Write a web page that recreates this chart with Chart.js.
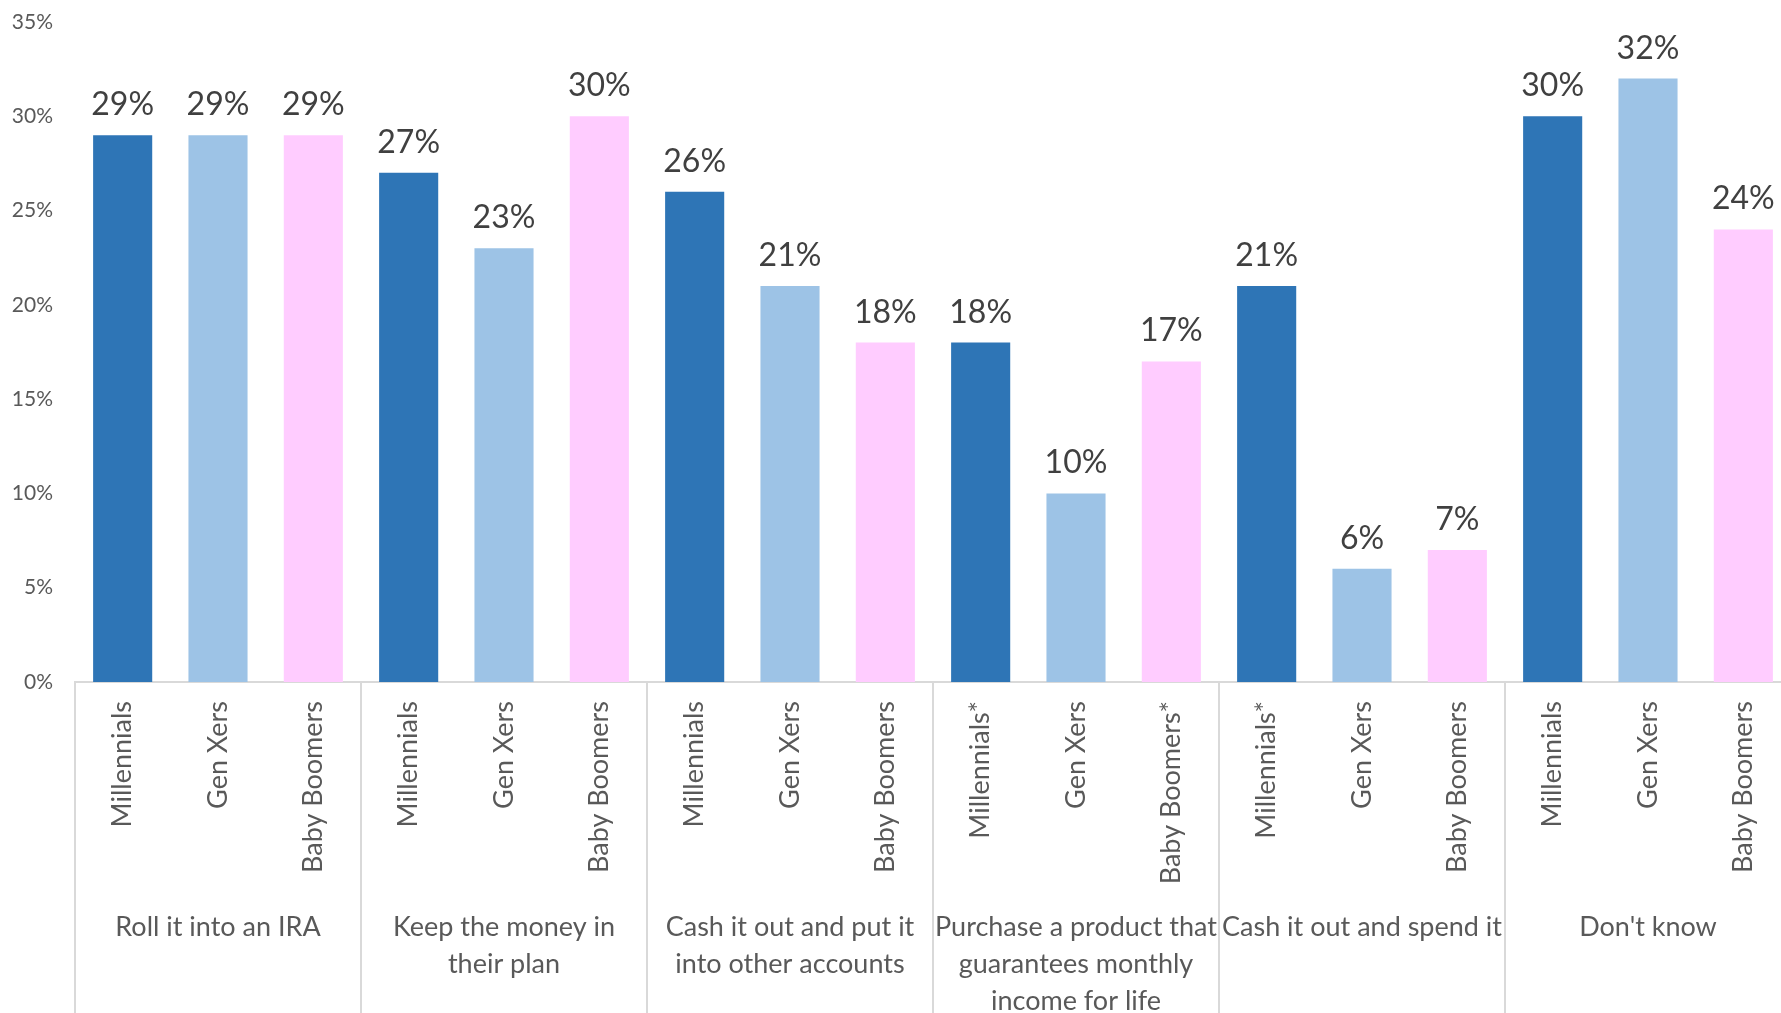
<!DOCTYPE html>
<html>
<head>
<meta charset="utf-8">
<script src="https://cdn.jsdelivr.net/npm/chart.js@4"></script>
<style>
  html, body { margin: 0; padding: 0; overflow: hidden; background: #fff; }
  #wrap { width: 1791px; height: 1022px; }
</style>
</head>
<body>
<div id="wrap"><canvas id="myChart" width="1791" height="1022"></canvas></div>
<script>
var groupLabels = [
  "Roll it into an IRA",
  ["Keep the money in", "their plan"],
  ["Cash it out and put it", "into other accounts"],
  ["Purchase a product that", "guarantees monthly", "income for life"],
  "Cash it out and spend it",
  "Don't know"
];
var barLabels = [
  "Millennials", "Gen Xers", "Baby Boomers",
  "Millennials", "Gen Xers", "Baby Boomers",
  "Millennials", "Gen Xers", "Baby Boomers",
  "Millennials*", "Gen Xers", "Baby Boomers*",
  "Millennials*", "Gen Xers", "Baby Boomers",
  "Millennials", "Gen Xers", "Baby Boomers"
];
var millennials = [29, 27, 26, 18, 21, 30];
var genXers = [29, 23, 21, 10, 6, 32];
var babyBoomers = [29, 30, 18, 17, 7, 24];
var yTicks = [0, 5, 10, 15, 20, 25, 30, 35];

var colors = ["#2E75B6", "#9DC3E6", "#FFCCFF"];

var values = [];
for (var i = 0; i < millennials.length; i++) {
  values.push(millennials[i], genXers[i], babyBoomers[i]);
}

var barValueLabels = {
  id: "barValueLabels",
  afterDatasetsDraw: function(chart) {
    var c = chart.ctx;
    var meta = chart.getDatasetMeta(0);
    c.save();
    c.font = "32px Lato";
    c.fillStyle = "#404040";
    c.textAlign = "center";
    c.textBaseline = "alphabetic";
    meta.data.forEach(function(bar, i) {
      c.fillText(values[i] + "%", bar.x, bar.y - 20);
    });
    c.restore();
  }
};

var groupDividers = {
  id: "groupDividers",
  afterDraw: function(chart) {
    var x = chart.scales.x;
    var c = chart.ctx;
    var step = x.width / barLabels.length;
    c.save();
    c.strokeStyle = "#d9d9d9";
    c.lineWidth = 2;
    for (var g = 0; g <= groupLabels.length; g++) {
      var px = Math.round(x.getPixelForValue(g * 3) - step / 2);
      c.beginPath();
      c.moveTo(px, chart.chartArea.bottom);
      c.lineTo(px, chart.height);
      c.stroke();
    }
    c.restore();
  }
};

var ctx = document.getElementById("myChart");
new Chart(ctx, {
  type: "bar",
  data: {
    labels: barLabels,
    datasets: [{
      label: "Share",
      data: values,
      backgroundColor: values.map(function(v, i) { return colors[i % 3]; }),
      categoryPercentage: 1,
      barPercentage: 0.62
    }]
  },
  options: {
    responsive: false,
    animation: false,
    layout: { autoPadding: false, padding: { top: 22, left: 0, right: 0, bottom: 0 } },
    plugins: { legend: { display: false }, tooltip: { enabled: false } },
    scales: {
      x: {
        weight: 0,
        grid: { display: false },
        border: { display: true, color: "#d9d9d9", width: 2 },
        afterFit: function(axis) { axis.height = 227; },
        ticks: {
          autoSkip: false,
          minRotation: 90,
          maxRotation: 90,
          padding: 11,
          color: "#595959",
          font: { family: "Lato", size: 27 }
        }
      },
      x2: {
        type: "category",
        position: "bottom",
        weight: 1,
        labels: groupLabels,
        offset: true,
        grid: { display: false, drawTicks: false },
        border: { display: false },
        afterFit: function(axis) { axis.height = 113; },
        ticks: {
          autoSkip: false,
          maxRotation: 0,
          padding: 0,
          color: "#595959",
          font: { family: "Lato", size: 27, lineHeight: 1.37 }
        }
      },
      y: {
        min: 0,
        max: 35,
        afterBuildTicks: function(axis) {
          axis.ticks = yTicks.map(function(v) { return { value: v }; });
        },
        grid: { display: false },
        border: { display: false },
        afterFit: function(axis) {
          axis.width = 75;
          axis.paddingTop = 0;
          axis.paddingBottom = 0;
        },
        ticks: {
          padding: 14,
          color: "#595959",
          font: { family: "Lato", size: 21 },
          callback: function(v) { return v + "%"; }
        }
      }
    }
  },
  plugins: [barValueLabels, groupDividers]
});
</script>
</body>
</html>
